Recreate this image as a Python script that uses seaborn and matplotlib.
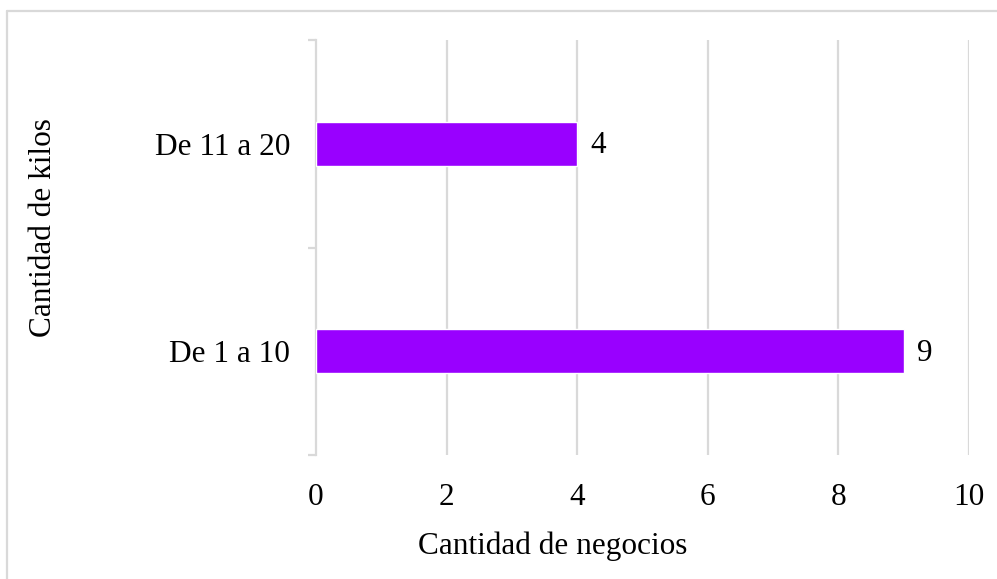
import matplotlib
matplotlib.use("Agg")
import matplotlib.pyplot as plt
from matplotlib.lines import Line2D
import seaborn as sns
import pandas as pd

# Data
categorias = ["De 11 a 20", "De 1 a 10"]
negocios = [4, 9]
x_ticks = [0, 2, 4, 6, 8, 10]

df = pd.DataFrame({"kilos": categorias, "negocios": negocios})

sns.set_theme(style="white")
plt.rcParams["font.family"] = ["Liberation Serif", "DejaVu Serif"]

fig = plt.figure(figsize=(9.97, 5.79), dpi=100)
ax = fig.add_axes([316 / 997, 1 - 455 / 579, (969 - 316) / 997, (455 - 40) / 579])

grid_color = "#D9D9D9"
bar_color = "#9900FF"
fs = 22.5

sns.barplot(data=df, x="negocios", y="kilos", orient="h", color=bar_color,
            width=0.21, saturation=1, ax=ax, zorder=3)

ax.set_xlim(0, 10)
ax.set_ylim(1.5, -0.5)
ax.set_xticks(x_ticks)
ax.set_xticklabels([str(t) for t in x_ticks])

# Vertical gridlines
for t in x_ticks[1:]:
    ax.axvline(t, color=grid_color, lw=1.6, zorder=1)

for s in ["top", "right", "bottom"]:
    ax.spines[s].set_visible(False)
ax.spines["left"].set_color(grid_color)
ax.spines["left"].set_linewidth(1.6)

ax.tick_params(axis="x", length=0, labelsize=fs, pad=20, colors="#000000")
ax.tick_params(axis="y", which="major", length=0, labelsize=fs, pad=18.5, colors="#000000")
ax.set_yticks([-0.5, 0.5, 1.5], minor=True)
ax.tick_params(axis="y", which="minor", left=True, length=6, width=1.6, color=grid_color)

# Value labels
for i, v in enumerate(negocios):
    ax.text(v + 0.2, i + 0.01, str(v), va="center", ha="left", fontsize=fs, color="#000000")

ax.set_xlabel("Cantidad de negocios", fontsize=fs, color="#000000")
ax.set_ylabel("Cantidad de kilos", fontsize=fs, color="#000000")
ax.xaxis.set_label_coords((553 - 316) / 653, (455 - 546) / 415)
ax.xaxis.label.set_va("center")
ax.yaxis.set_label_coords((44 - 316) / 653, (455 - 228) / 415)
ax.yaxis.label.set_va("center")

# Outer frame (top and left edges)
fig.add_artist(Line2D([7 / 997, 7 / 997], [0, 1 - 11 / 579], transform=fig.transFigure,
                      color=grid_color, lw=1.6))
fig.add_artist(Line2D([7 / 997, 1], [1 - 11 / 579, 1 - 11 / 579], transform=fig.transFigure,
                      color=grid_color, lw=1.6))

fig.savefig("out.png", dpi=100, facecolor="white")
